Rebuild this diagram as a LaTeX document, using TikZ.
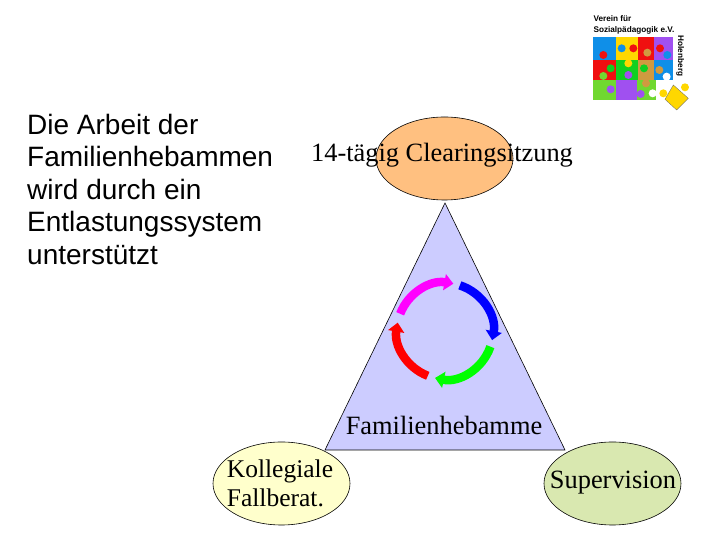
\documentclass[tikz,border=0pt]{standalone}
\usepackage{fontspec}
\setmainfont{Liberation Serif}
\newfontfamily\armfont{Liberation Sans}
\usepackage{tikz}
\usetikzlibrary{arrows.meta,shapes.geometric,calc}
\definecolor{famOrange}{HTML}{FFC080}
\definecolor{famYellow}{HTML}{FFFFCC}
\definecolor{famGreen}{HTML}{D9E8B0}
\definecolor{famLilac}{HTML}{CCCCFF}
\definecolor{ringBlue}{HTML}{0000FF}
\definecolor{ringGreen}{HTML}{00FF00}
\definecolor{ringRed}{HTML}{FF0000}
\definecolor{ringMagenta}{HTML}{FF00FF}
\definecolor{puzBlue}{HTML}{0F8FE8}
\definecolor{puzYellow}{HTML}{FFD700}
\definecolor{puzRed}{HTML}{F01010}
\definecolor{puzPurple}{HTML}{A050F0}
\definecolor{puzGreen}{HTML}{10D020}
\definecolor{puzTan}{HTML}{D09A40}
\definecolor{puzLime}{HTML}{70D830}

\begin{document}
\begin{tikzpicture}[x=1pt,y=1pt,
  every node/.style={font=\fontsize{26.4}{29}\selectfont},
  circlebox/.style={draw,ellipse,line width=0.6pt,
					 minimum width=137pt, minimum height=83pt, inner sep=0pt},
  tagtext/.style={inner sep=0pt},
  ringarrow/.style={line width=8.5pt,-{Triangle[length=9pt,width=16pt]}},
  logotext/.style={inner sep=0pt,font=\armfont\bfseries\fontsize{8.2}{9}\selectfont},
]
\useasboundingbox (0,0) rectangle (720,540);

\coordinate (top) at (445,337);
\coordinate (baseL) at (325,90);
\coordinate (baseR) at (565,90);
\coordinate (ring) at (445,209);
\draw[fill=famLilac,line width=0.6pt] (top) -- (baseL) -- (baseR) -- cycle;

\node[circlebox,fill=famOrange] (meeting) at (444.5,381.5) {};
\node[circlebox,fill=famYellow] (kollegial) at (281.5,56.5) {};
\node[circlebox,fill=famGreen] (supervision) at (612.5,56.5) {};

\node[tagtext] (meetingtext) at (442,385) {14-tägig Clearingsitzung};
\node[tagtext] (family) at (444,115) {Familienhebamme};
\node[tagtext,align=left,font=\fontsize{25.5}{29}\selectfont] (kollegialtext) at (280,57) {Kollegiale\\Fallberat.};
\node[tagtext] (supervisiontext) at (613,57) {Supervision};

\node[anchor=west,inner sep=0pt,align=left,
	  font=\armfont\fontsize{28}{32.5}\selectfont] (intro) at (27,351)
  {Die Arbeit der\\Familienhebammen\\wird durch ein\\Entlastungssystem\\unterstützt};

% ring of arrows
\draw[ringarrow,ringBlue] ($(ring)+(72:48)$) arc[start angle=72,end angle=-11,radius=48];
\draw[ringarrow,ringGreen] ($(ring)+(-19:48)$) arc[start angle=-19,end angle=-102,radius=48];
\draw[ringarrow,ringRed] ($(ring)+(-111:48)$) arc[start angle=-111,end angle=-190,radius=48];
\draw[ringarrow,ringMagenta] ($(ring)+(159:48)$) arc[start angle=159,end angle=80,radius=48];

% logo, in crop coordinates
\begin{scope}[shift={(570,540)},x=0.3333pt,y=-0.3333pt]
  \foreach \xa/\ya/\xb/\yb/\col in {70/112/138/180/puzBlue,138/112/205/180/puzYellow,
	205/112/252/180/puzRed,252/112/310/180/puzPurple,70/180/138/240/puzRed,
	138/180/205/240/puzGreen,205/180/252/240/puzTan,252/180/310/240/puzBlue,
	70/240/138/300/puzLime,138/240/200/300/puzPurple,200/240/258/300/puzLime}
	\fill[\col] (\xa,\ya) rectangle (\xb,\yb);
  \foreach \xa/\ya/\col in {100/165/puzRed,155/145/puzBlue,190/145/puzRed,232/158/puzTan,
	270/145/puzRed,292/165/puzBlue,122/205/puzGreen,175/190/puzYellow,222/205/puzGreen,
	268/210/puzTan,100/228/puzLime,175/225/puzPurple,228/250/puzTan,122/268/puzPurple,
	212/282/puzPurple,290/230/white,248/280/white}
	\fill[\col] (\xa,\ya) circle[radius=4pt];
  \fill[puzYellow,draw=black!60,line width=0.3pt] (285,298) -- (310,255) -- (355,295) -- (320,330) -- cycle;
  \fill[puzYellow] (280,280) circle[radius=4pt] (345,262) circle[radius=4pt];
  \node[logotext,anchor=west] (logoa) at (70,55) {Verein für};
  \node[logotext,anchor=west] (logob) at (70,90) {Sozialpädagogik e.V.};
  \node[logotext,rotate=-90] (logoc) at (331,168) {Holenberg};
\end{scope}
\end{tikzpicture}
\end{document}
